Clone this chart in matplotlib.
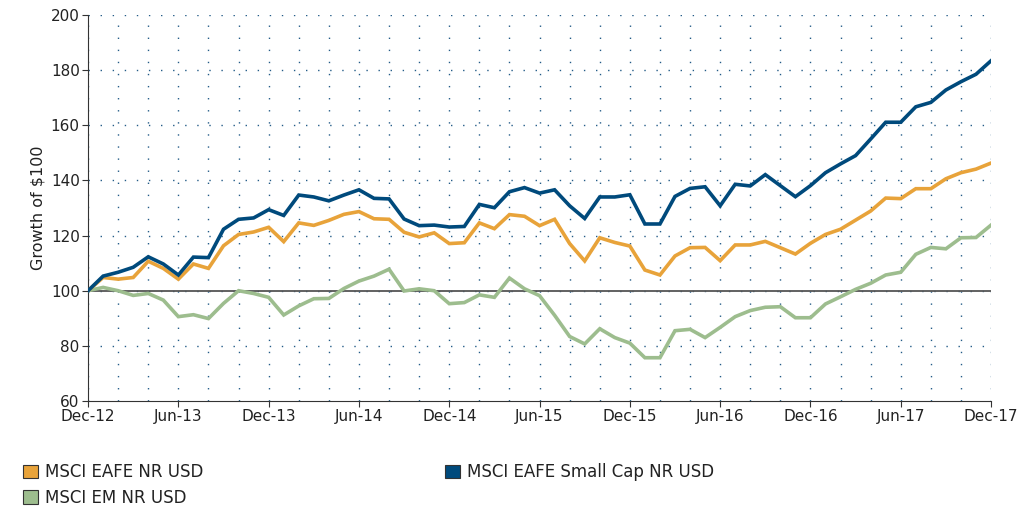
import matplotlib
matplotlib.use("Agg")
import matplotlib.pyplot as plt
import matplotlib.patches as mpatches
import numpy as np

# monthly growth of $100, Dec-12 .. Dec-17
eafe = [100, 104.8, 104.2, 104.8, 110.7, 108.1, 104.2, 109.7, 108.1, 116.3,
        120.4, 121.3, 123.0, 117.8, 124.6, 123.7, 125.5, 127.7, 128.7, 126.1,
        125.9, 121.2, 119.5, 121.0, 117.1, 117.4, 124.6, 122.5, 127.6, 127.0,
        123.6, 125.9, 117.1, 110.8, 119.2, 117.5, 116.2, 107.5, 105.7, 112.6,
        115.6, 115.7, 110.9, 116.6, 116.6, 117.9, 115.6, 113.3, 117.2, 120.4,
        122.3, 125.6, 128.9, 133.6, 133.4, 137.0, 137.0, 140.6, 142.8, 144.1,
        146.3]
small_cap = [100, 105.3, 106.7, 108.5, 112.3, 109.7, 105.7, 112.2, 112.0, 122.3,
             125.9, 126.4, 129.4, 127.3, 134.7, 134.0, 132.6, 134.7, 136.6, 133.5,
             133.3, 126.0, 123.6, 123.8, 123.1, 123.3, 131.3, 130.1, 135.9, 137.4,
             135.4, 136.6, 130.8, 126.2, 134.0, 134.0, 134.8, 124.2, 124.2, 134.2,
             137.1, 137.7, 130.8, 138.6, 138.0, 142.1, 138.1, 134.1, 138.1, 142.8,
             146.0, 149.0, 155.0, 161.1, 161.1, 166.7, 168.3, 172.8, 175.8, 178.5,
             183.4]
em = [100, 101.2, 100.0, 98.3, 99.0, 96.6, 90.6, 91.3, 89.9, 95.4,
      100.0, 99.0, 97.6, 91.2, 94.5, 97.1, 97.2, 100.8, 103.5, 105.3,
      107.8, 99.9, 100.7, 100.0, 95.3, 95.7, 98.5, 97.6, 104.6, 100.7,
      98.2, 91.1, 83.4, 80.7, 86.2, 83.0, 81.0, 75.7, 75.7, 85.5,
      86.0, 83.0, 86.7, 90.6, 92.8, 94.0, 94.2, 90.2, 90.2, 95.2,
      97.8, 100.5, 102.7, 105.7, 106.7, 113.2, 115.7, 115.2, 119.2, 119.3,
      123.8]
tick_labels = ["Dec-12", "Jun-13", "Dec-13", "Jun-14", "Dec-14", "Jun-15",
               "Dec-15", "Jun-16", "Dec-16", "Jun-17", "Dec-17"]
series_names = ["MSCI EAFE NR USD", "MSCI EM NR USD", "MSCI EAFE Small Cap NR USD"]

c_eafe = "#E8A33A"
c_small = "#004A7C"
c_em = "#9DBD8E"
grid_c = "#245C88"

fig = plt.figure(figsize=(10.36, 5.08), dpi=100)
ax = fig.add_axes([0.085, 0.2106, 0.8716, 0.7599])

months = np.arange(len(eafe))

# dotted grid
dots = (0, (1, 7.7))
for xv in range(0, 61, 2):
    ax.axvline(xv, color=grid_c, lw=1.0, linestyle=dots, zorder=1)
for yv in range(80, 201, 20):
    ax.axhline(yv, color=grid_c, lw=1.0, linestyle=dots, zorder=1)
ax.axhline(100, color="#555555", lw=1.3, zorder=2)

lw = 2.6
ax.plot(months, em, color=c_em, lw=lw, zorder=3, solid_joinstyle="miter")
ax.plot(months, eafe, color=c_eafe, lw=lw, zorder=4, solid_joinstyle="miter")
ax.plot(months, small_cap, color=c_small, lw=lw, zorder=5, solid_joinstyle="miter")

ax.set_xlim(0, 60)
ax.set_ylim(60, 200)
ax.set_xticks(np.arange(0, 61, 6))
ax.set_xticklabels(tick_labels)
ax.set_yticks(np.arange(60, 201, 20))
ax.tick_params(axis="both", labelsize=11, length=4, width=0.8, color="#333333",
               labelcolor="#222222", pad=2)
for s in ["top", "right"]:
    ax.spines[s].set_visible(False)
ax.spines["left"].set_color("#333333")
ax.spines["bottom"].set_color("#333333")
ax.set_ylabel("Growth of $100", fontsize=11.5, color="#222222", labelpad=4)

handles = [mpatches.Patch(facecolor=c, edgecolor="#333333", lw=0.8)
           for c in (c_eafe, c_em, c_small)]
fig.legend(handles, series_names, loc="lower left", bbox_to_anchor=(0.008, -0.027),
           ncol=2, frameon=False, fontsize=12, handlelength=0.9, handleheight=0.9,
           handletextpad=0.4, columnspacing=14.5, labelspacing=0.45,
           labelcolor="#222222")

fig.savefig("out.png", dpi=100)
